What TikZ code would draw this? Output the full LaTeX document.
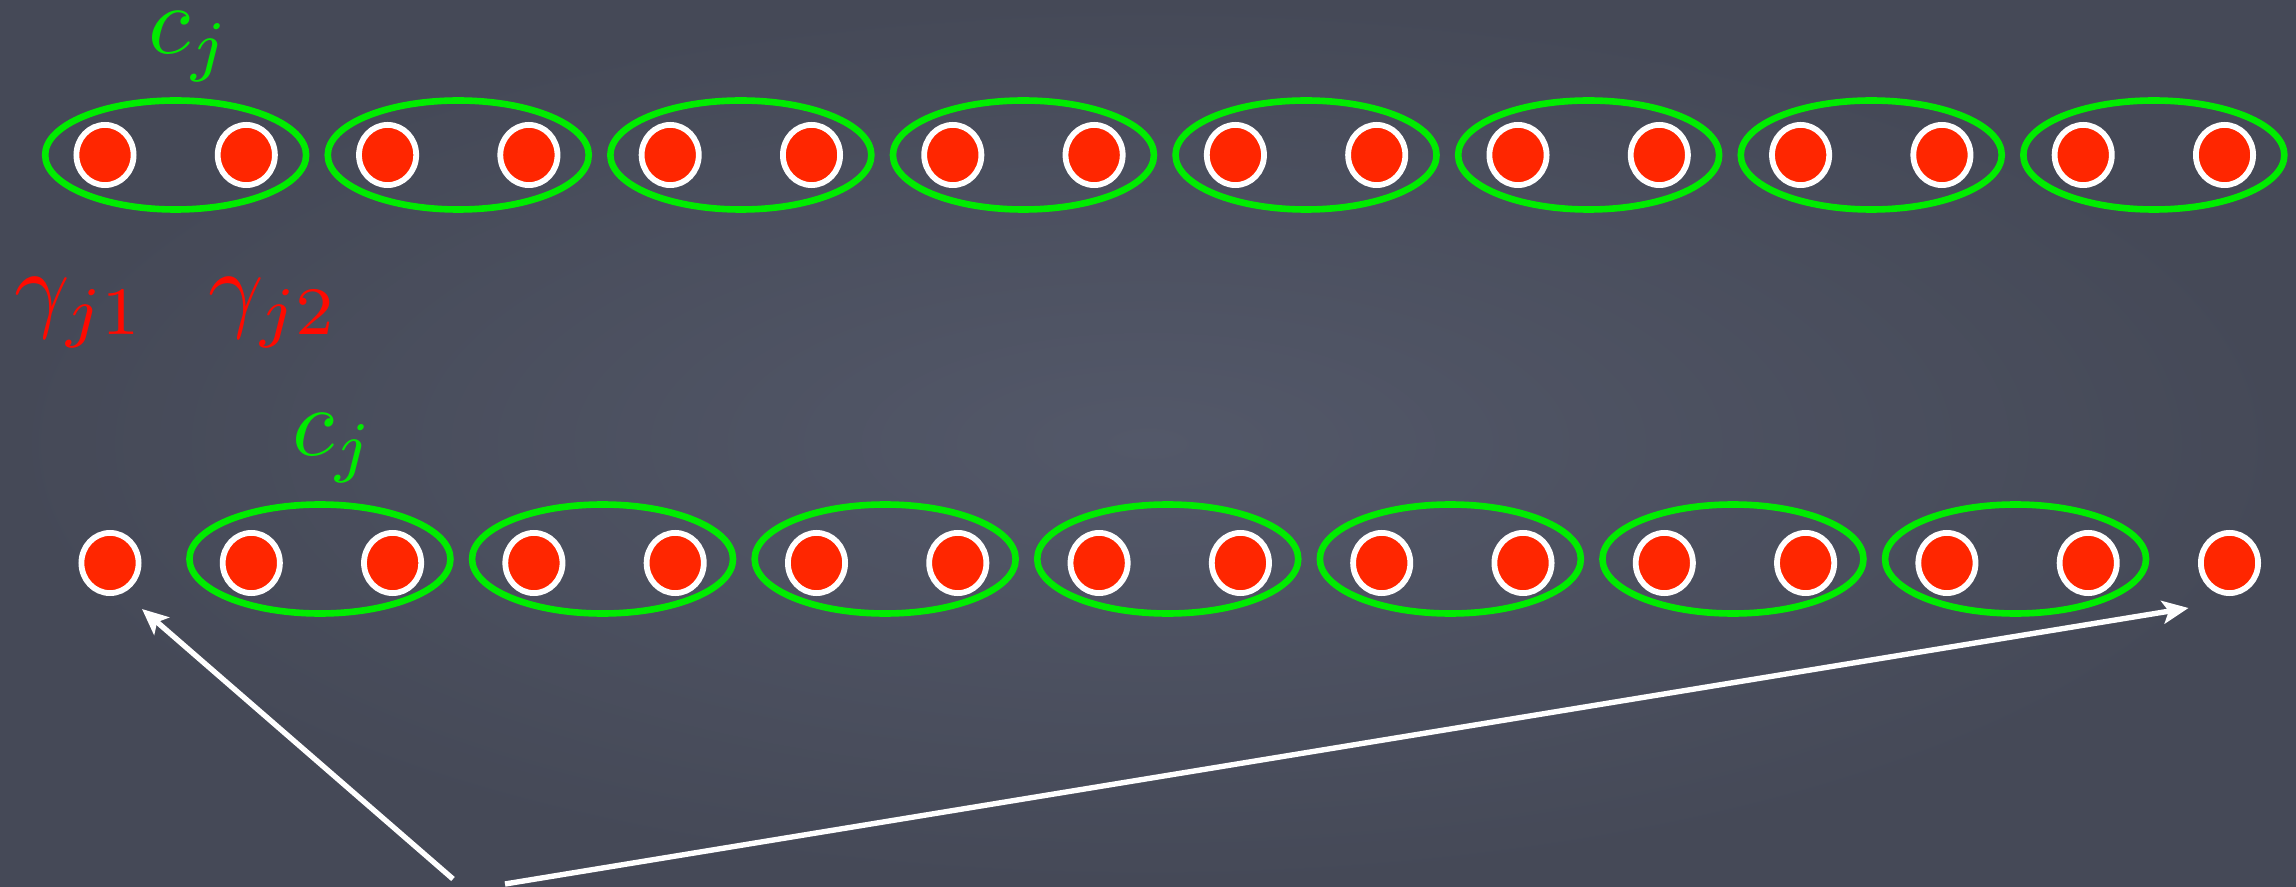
\documentclass[tikz,border=0pt]{standalone}
\usetikzlibrary{shapes.geometric,arrows.meta,calc}
\definecolor{boardlight}{HTML}{535869}
\definecolor{boarddark}{HTML}{454957}
\definecolor{dotred}{HTML}{FF2600}
\definecolor{gammared}{HTML}{FF0A00}
\definecolor{grpgreen}{HTML}{00EC00}
\tikzset{
  dotnode/.style={ellipse, draw=white, line width=2.9pt, fill=dotred,
    minimum width=28.6pt, minimum height=30.1pt, inner sep=0pt},
  grpnode/.style={ellipse, draw=grpgreen, line width=3.3pt,
    minimum width=130.5pt, minimum height=54.5pt, inner sep=0pt},
  lbl/.style={inner sep=0pt, anchor=base west, scale=4.85},
  arr/.style={draw=white, line width=2.7pt,
    -{Stealth[length=13pt, width=11.5pt, inset=3pt]}}
}
\begin{document}
\begin{tikzpicture}[x=0.5pt, y=-0.5pt]
  \useasboundingbox (0,0) rectangle (2296,887);
  \shade[inner color=boardlight, outer color=boarddark] (0,0) rectangle (2296,887);
  % dots
  \foreach \i in {0,...,15} {
    \node[dotnode] (t\i) at ({105+141.3*\i},155) {};
    \node[dotnode] (b\i) at ({110+141.3*\i},563) {};
  }
  % top groups
  \foreach \k in {0,...,7} {
    \pgfmathtruncatemacro\a{2*\k}
    \pgfmathtruncatemacro\b{2*\k+1}
    \node[grpnode] (tg\k) at ($(t\a)!0.5!(t\b)$) {};
  }
  % bottom groups
  \foreach \k in {0,...,6} {
    \pgfmathtruncatemacro\a{2*\k+1}
    \pgfmathtruncatemacro\b{2*\k+2}
    \node[grpnode] (bg\k) at ($(b\a)!0.5!(b\b)+(-2,-4)$) {};
  }
  % labels
  \node[lbl, text=grpgreen] (cjt) at (147,54) {$c_j$};
  \node[lbl, text=grpgreen] (cjb) at (291,455) {$c_j$};
  \node[lbl, text=gammared] (g1) at (13,320) {$\gamma_{j1}$};
  \node[lbl, text=gammared] (g2) at (207,320) {$\gamma_{j2}$};
  % arrows
  \coordinate (s1) at (453,879);
  \coordinate (s2) at (505,884);
  \coordinate (e1) at ([shift={(32,46)}]b0.center);
  \coordinate (e2) at ([shift={(-41,45)}]b15.center);
  \draw[arr] (s1) -- (e1);
  \draw[arr] (s2) -- (e2);
\end{tikzpicture}
\end{document}
